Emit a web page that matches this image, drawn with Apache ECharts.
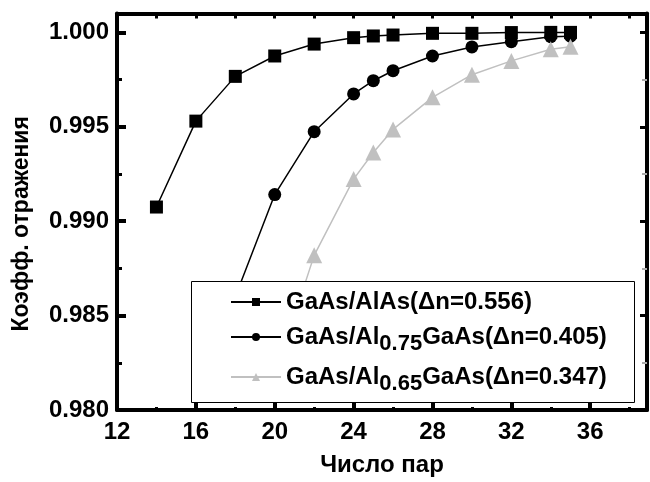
<!DOCTYPE html>
<html>
<head>
<meta charset="utf-8">
<script src="https://cdn.jsdelivr.net/npm/echarts@6/dist/echarts.min.js"></script>
<style>html,body{margin:0;padding:0;background:#fff}#c{width:650px;height:482px}</style>
</head>
<body>
<div id="c"></div>
<script>
// Data
const xAlAs = [14, 16, 18, 20, 22, 24, 25, 26, 28, 30, 32, 34, 35];
const yAlAs = [0.99075, 0.9953, 0.99767, 0.99875, 0.99938, 0.99972, 0.99981, 0.99986, 0.99995, 0.99995, 0.99999, 1.0, 1.0];
const xAl75 = [18, 20, 22, 24, 25, 26, 28, 30, 32, 34, 35];
const yAl75 = [0.9860, 0.99141, 0.99474, 0.99674, 0.99744, 0.99797, 0.99875, 0.99923, 0.99951, 0.99977, 0.9998];
const xAl65 = [20, 22, 24, 25, 26, 28, 30, 32, 34, 35];
const yAl65 = [0.9818, 0.98819, 0.99223, 0.99364, 0.99486, 0.99656, 0.99776, 0.99849, 0.99911, 0.99924];
const seriesNames = ['GaAs/AlAs(Δn=0.556)', 'GaAs/Al0.75GaAs(Δn=0.405)', 'GaAs/Al0.65GaAs(Δn=0.347)'];
const xTitle = 'Число пар';
const yTitle = 'Коэфф. отражения';

const pair = (xs, ys) => xs.map((x, i) => [x, ys[i]]);
const FONT = '"Liberation Sans", Arial, sans-serif';

const legendFormatter = (name) => {
  if (name === seriesNames[0]) return '{m|' + name + '}';
  const m = name.match(/^(GaAs\/Al)(0\.\d+)(GaAs.*)$/);
  return '{m|' + m[1] + '}{s|' + m[2] + '}{m|' + m[3] + '}';
};
const legendText = {
  fontFamily: FONT,
  color: '#000',
  rich: {
    m: { fontFamily: FONT, fontSize: 24, fontWeight: 'bold', color: '#000', lineHeight: 26 },
    s: { fontFamily: FONT, fontSize: 22, fontWeight: 'bold', color: '#000', lineHeight: 22, padding: [14, 0, 0, 0] }
  }
};
const mkLegend = (name, top) => ({
  data: [name], left: 230, top: top, padding: 0, itemWidth: 50, itemHeight: 10,
  formatter: legendFormatter, textStyle: legendText, selectedMode: false, z: 5
});

const chart = echarts.init(document.getElementById('c'), null, { renderer: 'canvas' });
const axisLine = { show: true, onZero: false, lineStyle: { color: '#000', width: 4 } };
chart.setOption({
  animation: false,
  backgroundColor: '#fff',
  grid: { left: 117, top: 13.5, width: 535, bottom: 69, containLabel: false },
  xAxis: [{
    type: 'value', min: 12, max: 38.88, interval: 4, position: 'bottom',
    axisLine: axisLine,
    axisTick: { show: true, inside: true, length: 8, lineStyle: { color: '#000', width: 4 } },
    minorTick: { show: true, splitNumber: 2, length: 3, lineStyle: { color: '#000', width: 3 } },
    splitLine: { show: false },
    axisLabel: {
      margin: 10, fontFamily: FONT, fontSize: 24, fontWeight: 'bold', color: '#000',
      formatter: v => (Math.abs(v - Math.round(v)) < 1e-6 && Math.round(v) % 4 === 0) ? String(Math.round(v)) : ''
    },
    name: xTitle, nameLocation: 'middle', nameGap: 43,
    nameTextStyle: { fontFamily: FONT, fontSize: 24, fontWeight: 'bold', color: '#000' }
  }, {
    type: 'value', min: 12, max: 38.88, interval: 2, position: 'top',
    axisLine: axisLine,
    axisTick: { show: true, inside: true, length: 5, lineStyle: { color: '#000', width: 3 } },
    axisLabel: { show: false }, splitLine: { show: false }
  }],
  yAxis: [{
    type: 'value', min: 0.98, max: 1.001, interval: 0.005, position: 'left',
    axisLine: axisLine,
    axisTick: { show: true, inside: true, length: 9, lineStyle: { color: '#000', width: 4 } },
    minorTick: { show: true, splitNumber: 2, length: 5, lineStyle: { color: '#000', width: 3 } },
    splitLine: { show: false },
    axisLabel: {
      margin: 8, fontFamily: FONT, fontSize: 24, fontWeight: 'bold', color: '#000',
      formatter: v => { const k = Math.round(v / 0.005); return Math.abs(v - k * 0.005) < 1e-7 ? v.toFixed(3) : ''; }
    },
    name: yTitle, nameLocation: 'middle', nameGap: 84, nameRotate: 90,
    nameTextStyle: { fontFamily: FONT, fontSize: 23, fontWeight: 'bold', color: '#000', padding: [0, 24, 0, 0] }
  }, {
    type: 'value', min: 0.98, max: 1.001, interval: 0.005, position: 'right',
    axisLine: axisLine,
    axisTick: { show: true, inside: true, length: 7, lineStyle: { color: '#000', width: 3 } },
    minorTick: { show: true, splitNumber: 2, length: 5, lineStyle: { color: '#aaa', width: 2 } },
    axisLabel: { show: false }, splitLine: { show: false }
  }],
  legend: [
    mkLegend(seriesNames[0], 290),
    mkLegend(seriesNames[1], 319),
    mkLegend(seriesNames[2], 359)
  ],
  graphic: [{
    type: 'rect', z: 3, shape: { x: 191.5, y: 281.5, width: 443, height: 121 },
    style: { fill: '#fff', stroke: '#000', lineWidth: 1 }
  }],
  series: [{
    name: seriesNames[0], type: 'line', data: pair(xAlAs, yAlAs),
    symbol: 'rect', symbolSize: 13, color: '#000',
    lineStyle: { color: '#000', width: 1.5 }, itemStyle: { color: '#000' }, z: 2
  }, {
    name: seriesNames[1], type: 'line', data: pair(xAl75, yAl75),
    symbol: 'circle', symbolSize: 13, color: '#000',
    lineStyle: { color: '#000', width: 1.5 }, itemStyle: { color: '#000' }, z: 2
  }, {
    name: seriesNames[2], type: 'line', data: pair(xAl65, yAl65),
    symbol: 'triangle', symbolSize: 16, color: '#c0c0c0',
    lineStyle: { color: '#c0c0c0', width: 1.5 }, itemStyle: { color: '#c0c0c0' }, z: 2
  }]
});
</script>
</body>
</html>
